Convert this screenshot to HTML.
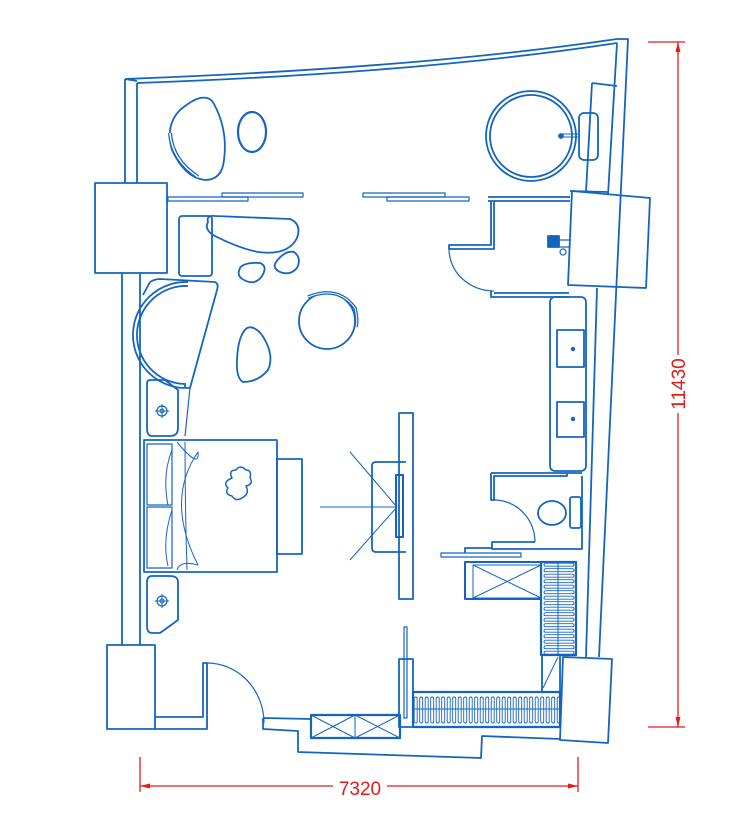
<!DOCTYPE html>
<html><head><meta charset="utf-8"><style>
html,body{margin:0;padding:0;background:#fff}
svg{display:block}
</style></head><body>
<svg width="749" height="815" viewBox="0 0 749 815" xmlns="http://www.w3.org/2000/svg">
<defs>
<pattern id="hh" x="413" y="0" width="5.5" height="815" patternUnits="userSpaceOnUse">
<rect x="1.2" y="697" width="3" height="26" rx="1.5" fill="none" stroke="#1565c0" stroke-width="0.9"/>
</pattern>
<pattern id="hv" x="0" y="562" width="815" height="5.5" patternUnits="userSpaceOnUse">
<rect x="544" y="1.2" width="30" height="3" rx="1.5" fill="none" stroke="#1565c0" stroke-width="0.9"/>
</pattern>
</defs>
<g fill="none" stroke="#1565c0" stroke-width="1.8" stroke-linejoin="round">
<path d="M125,79 Q420,68 617,39"/>
<path d="M137,83 Q420,73 617,43"/>
<line x1="125" y1="79" x2="137" y2="81"/>
<!-- right wall -->
<path d="M617,39 L628,39 L599,657"/>
<path d="M617,43 L608,195"/>
<path d="M592,83 L617,86"/>
<path d="M592,83 L586,192"/>
<path d="M597,288 L586,657"/>
<!-- left wall -->
<path d="M125,79 L125,183 M137,83 L137,183"/>
<path d="M122,273 L122,645 M140,273 L140,645"/>
<rect x="95" y="183" width="72" height="90"/>
<rect x="107" y="645" width="48" height="84"/>
<path d="M155,717 L203,717 L203,663 L207,663 L207,729 L155,729"/>
<path d="M207,663 L207,723" stroke-width="1.2"/>
<path d="M207,663 A57,60 0 0 1 264,723" stroke-width="1.2"/>
<path d="M263,718 L311,719 M263,718 L263,729 L298,731 L298,752 L481,758 L482,736 L560,739"/>
<rect x="311" y="715" width="89" height="23" stroke-width="2.2"/>
<path d="M355,715 L355,738 M311,715 L355,738 M311,738 L355,715 M355,715 L400,738 M355,738 L400,715" stroke-width="1"/>
<rect x="399" y="659" width="14" height="68"/>
<rect x="404" y="627" width="3" height="91" stroke-width="1.2"/>
<rect x="413" y="692" width="147" height="35" stroke-width="2.2"/>
<rect x="413" y="692" width="147" height="35" fill="url(#hh)" stroke="none"/>
<line x1="413" y1="709" x2="560" y2="709" stroke-width="1"/>
<rect x="541" y="562" width="35" height="93" stroke-width="2.2"/>
<rect x="541" y="562" width="35" height="93" fill="url(#hv)" stroke="none"/>
<line x1="558" y1="562" x2="558" y2="655" stroke-width="1"/>
<rect x="542" y="655" width="18" height="37"/>
<line x1="543" y1="688" x2="558" y2="657" stroke-width="1"/>
<rect x="465" y="562" width="76" height="37" stroke-width="2"/>
<rect x="473" y="565" width="68" height="33" stroke-width="1"/>
<path d="M473,565 L541,598 M473,598 L541,565" stroke-width="1"/>
<path d="M563,657 L612,659 L608,743 L560,740 Z"/>
<rect x="441" y="553" width="80" height="4" stroke-width="1.2"/>
<path d="M465,553 L465,548 L492,548"/>
<path d="M491,473 L491,500 L494,500 L494,476 L567,476 L567,473 L491,473"/>
<path d="M567,473 L582,473 M582,476 L582,549 L492,549 L492,542 L535,542"/>
<path d="M494,500 A41,42 0 0 1 535,542" stroke-width="1.2"/>
<ellipse cx="552" cy="513" rx="14" ry="12"/>
<rect x="570" y="497" width="11" height="31" rx="2"/>
<rect x="550" y="297" width="36" height="174" rx="5"/>
<rect x="557" y="330" width="27" height="37"/>
<rect x="557" y="402" width="27" height="35"/>
<circle cx="573" cy="349" r="1.3" fill="#1565c0"/>
<circle cx="573" cy="419" r="1.3" fill="#1565c0"/>
<path d="M488,197 L570,197 M488,201 L570,201 M491,201 L491,245 L449,245 L449,249 L494,249 L494,201"/>
<path d="M449,249 A45,42 0 0 0 494,291" stroke-width="1.2"/>
<path d="M491,291 L491,297 L569,297 M494,293 L569,293"/>
<path d="M570,191 L608,192"/>
<rect x="548" y="236" width="11" height="11" fill="#1565c0"/>
<path d="M559,240 L570,240 M559,247 L570,247" stroke-width="1.2"/>
<circle cx="563" cy="252" r="3" stroke-width="1.2"/>
<path d="M572,191 L650,198 L646,288 L568,285 Z"/>
<circle cx="531" cy="136" r="45"/>
<circle cx="531" cy="136" r="41"/>
<rect x="579" y="113" width="19" height="47" rx="5"/>
<path d="M561,137 L578,137 M561,134 L578,134" stroke-width="1"/>
<circle cx="561" cy="136" r="2" fill="#1565c0"/>
<rect x="168" y="197" width="80" height="4" stroke-width="1.2"/>
<rect x="222" y="193" width="81" height="4" stroke-width="1.2"/>
<rect x="363" y="193" width="82" height="4" stroke-width="1.2"/>
<rect x="387" y="197" width="82" height="4" stroke-width="1.2"/>
<path d="M200,98 Q210,96 214,104 Q228,130 224,160 Q222,180 205,180 Q185,178 172,150 Q165,125 180,110 Q192,100 200,98 Z"/>
<path d="M170,133 Q172,160 198,177" stroke-width="4"/>
<path d="M170,133 Q172,160 198,177" stroke="#fff" stroke-width="1.5"/>
<ellipse cx="252" cy="132" rx="14" ry="20" stroke-width="2.2"/>
<rect x="179" y="216" width="33" height="60" rx="3"/>
<path d="M208,222 Q206,215 215,216 L290,219 Q302,224 297,238 Q288,256 258,252 Q238,248 213,235 Q204,229 208,222 Z"/>
<path d="M240,268 Q244,262 260,263 Q268,266 262,276 Q255,286 244,280 Q236,276 240,268 Z"/>
<path d="M276,262 Q285,250 294,252 Q302,258 297,268 Q290,276 280,272 Q272,268 276,262 Z"/>
<circle cx="327" cy="321" r="28"/>
<path d="M308,297 Q338,285 355,308 Q358,320 356,327" stroke-width="3.5"/>
<path d="M308,297 Q338,285 355,308 Q358,320 356,327" stroke="#fff" stroke-width="1"/>
<path d="M247,328 Q254,325 262,335 Q275,355 268,370 Q258,382 243,382 Q236,378 237,360 Q238,335 247,328 Z"/>
<path d="M150,282 Q155,279 160,279 L215,282 Q219,284 217,290 L190,388 L185,388 L185,383"/>
<path d="M150,282 L143,295"/>
<path d="M188,282 A52,52 0 0 0 184,388"/>
<path d="M188,286 A48,48 0 0 0 184,384"/>
<path d="M190,388 L185,436" stroke-width="1.2"/>
<path d="M150,380 L165,380 L178,390 L178,428 Q178,436 170,436 L152,436 Q147,436 147,428 L147,384 Q147,380 150,380 Z"/>
<path d="M152,576 L170,576 Q178,576 178,582 L178,620 L160,633 L152,633 Q147,633 147,626 L147,582 Q147,576 152,576 Z"/>
<circle cx="162" cy="411" r="5" stroke-width="1.2"/><circle cx="162" cy="411" r="2" stroke-width="1"/>
<path d="M155,411 L169,411 M162,404 L162,418" stroke-width="1"/>
<circle cx="162" cy="601" r="5" stroke-width="1.2"/><circle cx="162" cy="601" r="2" stroke-width="1"/>
<path d="M155,601 L169,601 M162,594 L162,608" stroke-width="1"/>
<rect x="144" y="440" width="133" height="132"/>
<rect x="147" y="444" width="25" height="61" stroke-width="1.2"/>
<rect x="147" y="507" width="25" height="61" stroke-width="1.2"/>
<path d="M172,450 Q162,475 168,505 M172,510 Q162,540 168,566" stroke-width="1"/>
<path d="M177,442 Q200,470 198,452 Q165,500 198,565 Q180,560 177,570" stroke-width="1"/>
<path d="M185,442 Q185,505 187,570" stroke-width="1"/>
<rect x="277" y="459" width="25" height="95"/>
<path d="M232,478 Q228,470 236,470 Q240,464 246,470 Q252,470 250,478 Q254,484 246,486 Q250,494 242,498 Q236,502 232,496 Q224,494 228,488 Q222,482 232,478 Z" stroke-width="1.5"/>
<rect x="399" y="413" width="14" height="186"/>
<path d="M406,462 L376,462 Q372,462 372,466 L372,548 Q372,552 376,552 L406,552"/>
<rect x="396" y="475" width="7" height="62" stroke-width="2"/>
<path d="M320,507 L397,507 M350,452 L397,507 L350,560" stroke-width="1"/>
</g>
<g stroke="#e31b1b" stroke-width="1.3" fill="none">
<line x1="678" y1="42" x2="678" y2="727"/>
<line x1="648" y1="42" x2="685" y2="42"/>
<line x1="648" y1="727" x2="685" y2="727"/>
<line x1="140" y1="786" x2="578" y2="786"/>
<line x1="140" y1="757" x2="140" y2="792"/>
<line x1="578" y1="757" x2="578" y2="792"/>
</g>
<rect x="666" y="355" width="24" height="58" fill="#fff"/>
<rect x="333" y="775" width="54" height="22" fill="#fff"/>
<g fill="#e31b1b">
<path d="M678,42 L675.5,52 L680.5,52 Z"/>
<path d="M678,727 L675.5,717 L680.5,717 Z"/>
<path d="M140,786 L150,783.5 L150,788.5 Z"/>
<path d="M578,786 L568,783.5 L568,788.5 Z"/>
<text x="360" y="795" font-family="Liberation Sans, sans-serif" font-size="19" text-anchor="middle">7320</text>
<text transform="translate(685,384) rotate(-90)" font-family="Liberation Sans, sans-serif" font-size="19" text-anchor="middle">11430</text>
</g>
</svg>
</body></html>
